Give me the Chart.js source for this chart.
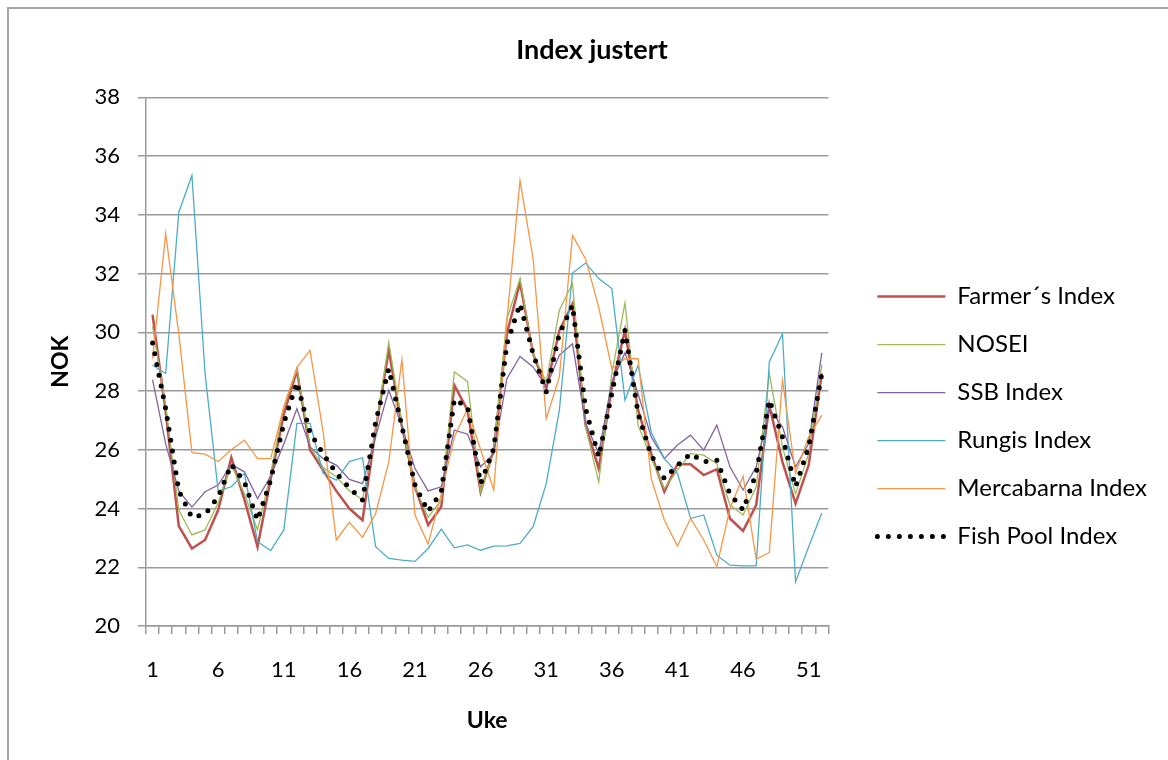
<!DOCTYPE html>
<html>
<head>
<meta charset="utf-8">
<script src="https://cdn.jsdelivr.net/npm/chart.js@4.4.1/dist/chart.umd.min.js"></script>
<style>
  html, body { margin: 0; padding: 0; background: #fff; overflow: hidden; }
  #frame { position: absolute; left: 7px; top: 7px; width: 1400px; height: 1000px; border: 2px solid #a6a6a6; }
  #wrap { position: absolute; left: 0; top: 0; width: 1168px; height: 760px; }
</style>
</head>
<body>
<div id="frame"></div>
<div id="wrap"><canvas id="indexChart"></canvas></div>
<script>
var weeks = ['1','2','3','4','5','6','7','8','9','10','11','12','13','14','15','16','17','18','19','20',
  '21','22','23','24','25','26','27','28','29','30','31','32','33','34','35','36','37','38','39','40',
  '41','42','43','44','45','46','47','48','49','50','51','52'];

var farmers = [30.6, 27.3, 23.4, 22.64, 22.93, 23.95, 25.73, 24.3, 22.7, 25.0, 27.2, 28.7, 26.0, 25.3, 24.6, 24.0, 23.6, 26.67, 29.39, 26.8,
  24.74, 23.44, 24.06, 28.2, 27.35, 24.57, 25.99, 29.95, 31.7, 29.27, 28.08, 30.06, 30.97, 26.84, 25.36, 28.14, 30.07, 27.35, 25.87, 24.57,
  25.51, 25.51, 25.14, 25.34, 23.66, 23.24, 24.12, 27.52, 25.59, 24.17, 25.48, 28.6];
var nosei = [30.2, 27.5, 23.95, 23.1, 23.27, 24.2, 25.5, 24.5, 23.27, 25.2, 27.46, 28.76, 26.1, 25.4, 25.08, 24.6, 24.3, 26.67, 29.67, 26.9,
  24.74, 23.7, 24.3, 28.65, 28.33, 24.57, 25.99, 30.46, 31.83, 29.27, 28.31, 30.75, 31.66, 26.78, 24.9, 28.6, 31.0, 26.84, 25.7, 24.68,
  25.31, 25.87, 25.82, 25.53, 24.12, 23.78, 24.74, 28.6, 26.1, 24.5, 25.87, 28.9];
var ssb = [28.39, 26.2, 24.6, 24.05, 24.57, 24.8, 25.5, 25.25, 24.34, 25.1, 26.2, 27.4, 26.1, 25.7, 25.48, 24.99, 24.85, 26.44, 28.03, 26.8,
  25.36, 24.6, 24.74, 26.67, 26.53, 25.42, 25.87, 28.42, 29.18, 28.82, 28.14, 29.22, 29.61, 26.9, 25.87, 28.31, 29.3, 27.9, 26.44, 25.7,
  26.16, 26.5, 25.99, 26.84, 25.42, 24.63, 25.42, 27.4, 26.78, 25.42, 26.21, 29.3];
var rungis = [28.88, 28.6, 34.09, 35.34, 28.6, 24.6, 24.74, 25.2, 22.87, 22.57, 23.27, 26.9, 26.9, 25.2, 24.97, 25.6, 25.73, 22.7, 22.3, 22.24,
  22.2, 22.64, 23.3, 22.66, 22.76, 22.58, 22.72, 22.73, 22.81, 23.38, 24.85, 27.35, 32.02, 32.36, 31.83, 31.49, 27.69, 28.88, 26.6, 25.7,
  25.2, 23.66, 23.78, 22.41, 22.07, 22.05, 22.05, 28.99, 29.95, 21.5, 22.7, 23.85];
var mercabarna = [29.1, 33.36, 29.95, 25.9, 25.85, 25.6, 26.0, 26.33, 25.7, 25.7, 27.46, 28.8, 29.39, 26.6, 22.93, 23.53, 23.02, 23.83, 25.59, 29.07,
  23.78, 22.79, 24.5, 26.44, 27.4, 26.0, 24.63, 30.4, 35.17, 32.5, 27.06, 28.48, 33.3, 32.5, 30.86, 28.76, 29.1, 29.1, 25.02, 23.6,
  22.72, 23.66, 22.93, 22.02, 24.0, 25.1, 22.28, 22.5, 28.37, 25.2, 26.44, 27.18];
var fishPool = [29.64, 27.4, 24.6, 23.7, 23.8, 24.4, 25.5, 24.9, 23.6, 24.97, 26.9, 28.3, 26.58, 25.87, 25.2, 24.7, 24.29, 26.95, 28.76, 26.8,
  24.8, 23.9, 24.57, 27.72, 27.46, 24.85, 26.04, 29.6, 30.97, 29.27, 27.97, 29.95, 30.92, 27.4, 25.76, 27.92, 30.07, 27.24, 25.82, 25.02,
  25.47, 25.87, 25.59, 25.65, 24.5, 23.95, 25.2, 27.69, 26.44, 24.74, 26.1, 28.6];

var gridGray = '#9a9a9a';
var fontFam = 'Lato, "Open Sans", sans-serif';

function line(label, data, color, width, order) {
  return {
    label: label,
    data: data,
    borderColor: color,
    backgroundColor: color,
    borderWidth: width,
    pointRadius: 0,
    fill: false,
    tension: 0,
    order: order
  };
}

var fp = line('Fish Pool Index', fishPool, '#000000', 5, 1);
fp.borderDash = [0, 11];
fp.borderCapStyle = 'round';

new Chart(document.getElementById('indexChart'), {
  type: 'line',
  data: {
    labels: weeks,
    datasets: [
      line('Farmer\u00b4s Index', farmers, '#C0504D', 2.5, 6),
      line('NOSEI', nosei, '#9BBB59', 1.3, 5),
      line('SSB Index', ssb, '#8064A2', 1.3, 4),
      line('Rungis Index', rungis, '#4BACC6', 1.3, 3),
      line('Mercabarna Index', mercabarna, '#F79646', 1.3, 2),
      fp
    ]
  },
  options: {
    responsive: true,
    maintainAspectRatio: false,
    animation: false,
    layout: { padding: { left: 27, top: 0, bottom: 0, right: 11 } },
    plugins: {
      tooltip: { enabled: false },
      title: {
        display: true,
        text: 'Index justert',
        color: '#000',
        font: { family: fontFam, size: 27, weight: 'bold' },
        padding: { top: 34, bottom: 31 }
      },
      legend: {
        position: 'right',
        align: 'center',
        maxWidth: 400,
        title: { display: true, text: '', font: { size: 1 }, padding: { top: 72, bottom: 0 } },
        labels: {
          usePointStyle: true,
          pointStyleWidth: 68,
          color: '#000',
          padding: 24,
          font: { family: fontFam, size: 24 },
          generateLabels: function(chart) {
            return chart.data.datasets.map(function(ds, i) {
              return {
                text: ds.label,
                datasetIndex: i,
                hidden: false,
                pointStyle: 'line',
                strokeStyle: ds.borderColor,
                fillStyle: ds.borderColor,
                lineWidth: ds.borderWidth,
                lineDash: ds.borderDash || [],
                lineCap: ds.borderCapStyle || 'butt',
                fontColor: '#000'
              };
            });
          }
        }
      }
    },
    scales: {
      x: {
        type: 'category',
        offset: true,
        grid: { display: true, offset: true, drawOnChartArea: false, drawTicks: true, tickLength: 8, color: gridGray, lineWidth: 1.5 },
        border: { display: true, color: gridGray, width: 1.5 },
        ticks: {
          autoSkip: false,
          maxRotation: 0,
          padding: 23,
          color: '#000',
          font: { family: fontFam, size: 22 },
          callback: function(v, i) { return i % 5 === 0 ? weeks[i] : ''; }
        },
        title: { display: true, text: 'Uke', color: '#000', font: { family: fontFam, size: 23, weight: 'bold' }, padding: { top: 0, bottom: 26 } },
        afterFit: function(s) { s.height = 134; }
      },
      y: {
        min: 20,
        max: 38,
        grid: { color: gridGray, lineWidth: 1.5, drawTicks: true, tickLength: 8 },
        border: { display: true, color: gridGray, width: 1.5 },
        ticks: { stepSize: 2, padding: 18, color: '#000', font: { family: fontFam, size: 22 } },
        title: { display: true, text: 'NOK', color: '#000', font: { family: fontFam, size: 23, weight: 'bold' }, padding: { top: 20, bottom: 0 } },
        afterFit: function(s) { s.width = 119; }
      },
      yRight: {
        position: 'right',
        display: true,
        grid: { display: false },
        border: { display: false },
        ticks: { display: false },
        afterFit: function(s) { s.width = 25; }
      }
    }
  }
});
</script>
</body>
</html>
